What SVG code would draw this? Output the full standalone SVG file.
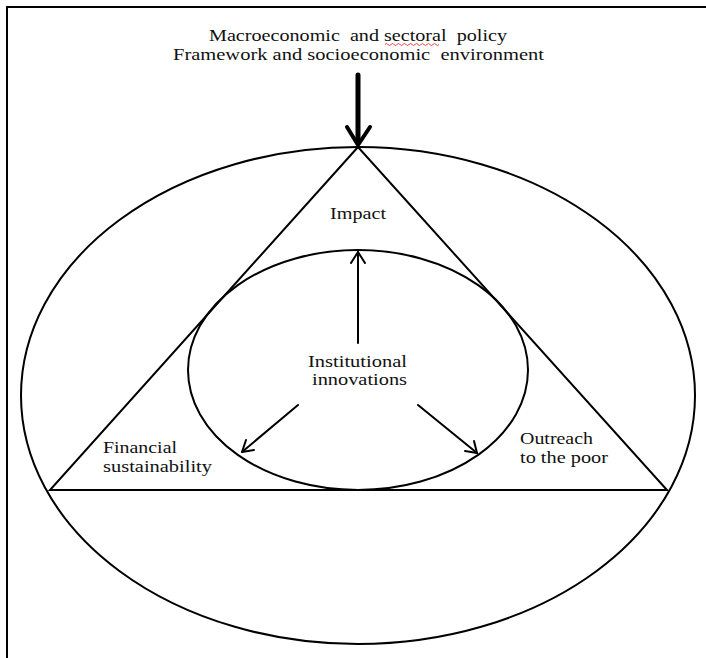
<svg xmlns="http://www.w3.org/2000/svg" width="706" height="658" viewBox="0 0 706 658">
<style>
.t{font-family:"Liberation Serif","Times New Roman",serif;fill:#111;font-size:17.5px;}
.ln{fill:none;stroke:#000;stroke-width:2;}
.ar{fill:none;stroke:#000;stroke-width:2;stroke-linecap:round;stroke-linejoin:round;}
</style>
<rect width="706" height="658" fill="#fff"/>
<g id="frame">
<path d="M7 658 V7 H706" fill="none" stroke="#000" stroke-width="2"/>
</g>
<g id="title">
<text class="t" x="209" y="41" textLength="298" lengthAdjust="spacingAndGlyphs" xml:space="preserve">Macroeconomic  and sectoral  policy</text>
<text class="t" x="173" y="60" textLength="371" lengthAdjust="spacingAndGlyphs" xml:space="preserve">Framework and socioeconomic  environment</text>
<path d="M385 44.5 q1.5 -2 3 0 t3 0 t3 0 t3 0 t3 0 t3 0 t3 0 t3 0 t3 0 t3 0 t3 0 t3 0 t3 0 t3 0 t3 0 t3 0 t3 0 t3 0" fill="none" stroke="#e02020" stroke-width="0.8"/>
</g>
<g id="outer-environment">
<ellipse class="ln" cx="358" cy="395.5" rx="337" ry="248.5"/>
</g>
<g id="triangle">
<path class="ln" d="M358 147 L50 490 L667 490 Z"/>
</g>
<g id="inner-ellipse">
<ellipse class="ln" cx="358" cy="370" rx="170" ry="120"/>
</g>
<g id="labels">
<text class="t" x="330" y="219" textLength="56" lengthAdjust="spacingAndGlyphs">Impact</text>
<text class="t" x="308" y="367" textLength="99" lengthAdjust="spacingAndGlyphs">Institutional</text>
<text class="t" x="312" y="385" textLength="95" lengthAdjust="spacingAndGlyphs">innovations</text>
<text class="t" x="103" y="453" textLength="74" lengthAdjust="spacingAndGlyphs">Financial</text>
<text class="t" x="103" y="472" textLength="109" lengthAdjust="spacingAndGlyphs">sustainability</text>
<text class="t" x="520" y="444" textLength="73" lengthAdjust="spacingAndGlyphs">Outreach</text>
<text class="t" x="520" y="463" textLength="88" lengthAdjust="spacingAndGlyphs">to the poor</text>
</g>
<g id="connectors">
<line x1="358" y1="75" x2="358" y2="143" stroke="#000" stroke-width="5" stroke-linecap="round"/>
<path d="M347 127 L358 145 L370 127" fill="none" stroke="#000" stroke-width="4" stroke-linecap="round" stroke-linejoin="round"/>
<line class="ar" x1="358" y1="343" x2="358" y2="252"/>
<path class="ar" d="M351 263 L358 252 L365 263"/>
<line class="ar" x1="298" y1="405" x2="242" y2="452"/>
<path class="ar" d="M246 440 L242 452 L254 450"/>
<line class="ar" x1="418" y1="405" x2="477" y2="453"/>
<path class="ar" d="M465 451 L477 453 L474 441"/>
</g>
</svg>
